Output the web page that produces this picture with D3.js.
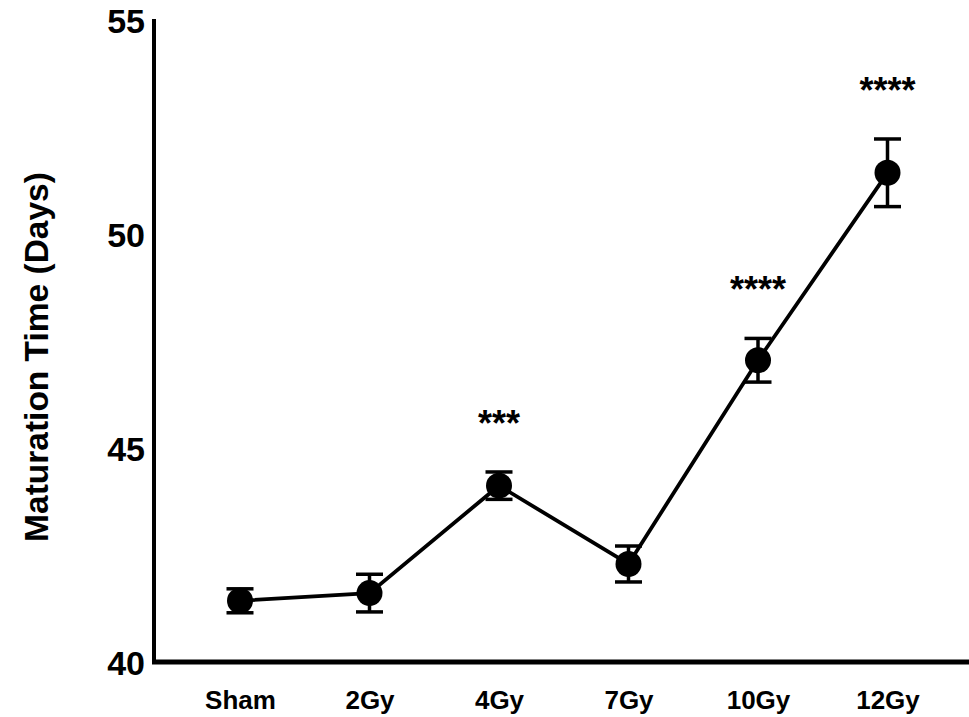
<!DOCTYPE html>
<html>
<head>
<meta charset="utf-8">
<script src="https://cdn.jsdelivr.net/npm/d3@7"></script>
<style>
  body { margin: 0; background: #fff; }
  svg { display: block; font-family: "Liberation Sans", Arial, sans-serif; font-weight: bold; }
</style>
</head>
<body>
<svg id="chart" width="969" height="717"></svg>
<script>
// values
const groups = ["Sham", "2Gy", "4Gy", "7Gy", "10Gy", "12Gy"];
const meanDays = [41.43, 41.61, 44.12, 42.29, 47.05, 51.43];
const semDays = [0.28, 0.44, 0.32, 0.42, 0.51, 0.79];
const stars = ["", "", "***", "", "****", "****"];
const yTicks = [40, 45, 50, 55];

const svg = d3.select("#chart");

const x = d3.scalePoint().domain(groups).range([240, 887.5]);
const y = d3.scaleLinear().domain([40, 55]).range([662, 20]);

const rows = groups.map((g, i) => ({ g: g, m: meanDays[i], e: semDays[i], s: stars[i] }));

// axes
const yAxis = svg.append("g")
    .attr("transform", "translate(154,0)")
    .call(d3.axisLeft(y).tickValues(yTicks).tickSize(0).tickPadding(9).tickFormat(d3.format("d")));
yAxis.select(".domain").attr("stroke", "#000").attr("stroke-width", 4)
    .attr("d", "M0," + (y(55) - 1) + "V" + (y(40) + 2));
yAxis.selectAll("text").attr("font-size", 34).attr("font-weight", "bold").attr("fill", "#000")
    .attr("font-family", "Liberation Sans, Arial, sans-serif").attr("dy", "0.36em");

const xAxis = svg.append("g")
    .attr("transform", "translate(0,662)")
    .call(d3.axisBottom(x).tickSize(0).tickPadding(34));
xAxis.select(".domain").attr("stroke", "#000").attr("stroke-width", 5)
    .attr("d", "M152,0H969");
xAxis.selectAll("text").attr("font-size", 26).attr("font-weight", "bold").attr("fill", "#000")
    .attr("font-family", "Liberation Sans, Arial, sans-serif").attr("dy", "0.5em");

// y title
svg.append("text")
    .attr("transform", "translate(48,357) rotate(-90)")
    .attr("text-anchor", "middle")
    .attr("font-size", 33.5)
    .text("Maturation Time (Days)");

// connecting line
svg.append("path")
    .datum(rows)
    .attr("fill", "none")
    .attr("stroke", "#000")
    .attr("stroke-width", 3.8)
    .attr("d", d3.line().x(d => x(d.g)).y(d => y(d.m)));

// error bars
const eb = svg.append("g").attr("stroke", "#000").attr("stroke-width", 3.5);
eb.selectAll(".stem").data(rows).enter().append("line")
    .attr("x1", d => x(d.g)).attr("x2", d => x(d.g))
    .attr("y1", d => y(d.m + d.e)).attr("y2", d => y(d.m - d.e));
eb.selectAll(".capTop").data(rows).enter().append("line")
    .attr("x1", d => x(d.g) - 13.5).attr("x2", d => x(d.g) + 13.5)
    .attr("y1", d => y(d.m + d.e)).attr("y2", d => y(d.m + d.e));
eb.selectAll(".capBot").data(rows).enter().append("line")
    .attr("x1", d => x(d.g) - 13.5).attr("x2", d => x(d.g) + 13.5)
    .attr("y1", d => y(d.m - d.e)).attr("y2", d => y(d.m - d.e));

// markers
svg.append("g").selectAll("circle").data(rows).enter().append("circle")
    .attr("cx", d => x(d.g)).attr("cy", d => y(d.m)).attr("r", 13).attr("fill", "#000");

// significance stars
svg.append("g").selectAll("text").data(rows.filter(d => d.s)).enter().append("text")
    .attr("x", d => x(d.g))
    .attr("y", d => y(d.m + d.e) - 36)
    .attr("text-anchor", "middle")
    .attr("font-size", 36)
    .text(d => d.s);
</script>
</body>
</html>
